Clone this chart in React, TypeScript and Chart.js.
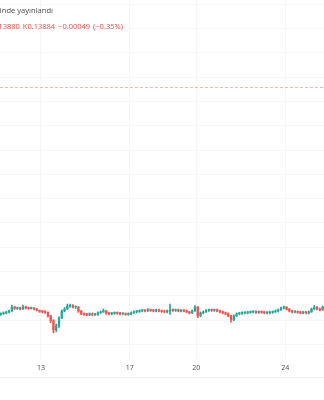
import React, { useEffect, useRef } from "react";
import { Chart, registerables } from "chart.js";

Chart.register(...registerables);

// ---- data (3-hour candles starting day 11, 03:00) ----
const FIRST_DAY = 11;
const START_HOUR = 3;
const CANDLE_HOURS = 3;
const dayTicks = [13, 17, 20, 24];
const prevClose = 0.13933;
const firstOpen = 0.138862;

const closes = [
  0.138863, 0.138865, 0.138866, 0.138869, 0.138877, 0.138874, 0.138875, 0.138873, 0.138877, 0.138875,
  0.138874, 0.138875, 0.138873, 0.13887, 0.138868, 0.138867, 0.138866, 0.138859, 0.138849, 0.13883,
  0.138838, 0.138855, 0.138869, 0.138873, 0.138879, 0.13888, 0.138877, 0.138877, 0.138869, 0.138863,
  0.138862, 0.138861, 0.138863, 0.138861, 0.138862, 0.138865, 0.138867, 0.138869, 0.138864, 0.138863,
  0.138864, 0.138865, 0.138864, 0.138863, 0.138863, 0.138862, 0.138863, 0.138865, 0.138867, 0.138868,
  0.138869, 0.13887, 0.138869, 0.138871, 0.13887, 0.138869, 0.138871, 0.138869, 0.138868, 0.138867,
  0.138869, 0.138871, 0.13887, 0.138871, 0.138869, 0.13887, 0.138869, 0.138867, 0.138865, 0.138869,
  0.138877, 0.138859, 0.138865, 0.138867, 0.13887, 0.138871, 0.13887, 0.138871, 0.138869, 0.138867,
  0.138865, 0.138863, 0.138859, 0.138851, 0.138859, 0.138863, 0.138864, 0.138865, 0.138865, 0.138866,
  0.138867, 0.138867, 0.138866, 0.138867, 0.138866, 0.138865, 0.138865, 0.138866, 0.138867, 0.138869,
  0.138871, 0.138875, 0.138877, 0.138873, 0.138869, 0.138867, 0.138867, 0.138866, 0.138865, 0.138866,
  0.138865, 0.138867, 0.138873, 0.138877, 0.138873, 0.138871, 0.138877, 0.138886,
];

const highs = [
  0.138865, 0.138867, 0.138868, 0.138871, 0.138881, 0.138879, 0.138877, 0.138877, 0.138881, 0.138879,
  0.138877, 0.138877, 0.138876, 0.138874, 0.138871, 0.13887, 0.138869, 0.138867, 0.13886, 0.138851,
  0.138842, 0.138857, 0.138871, 0.138876, 0.138883, 0.138883, 0.138882, 0.138879, 0.138878, 0.13887,
  0.138865, 0.138864, 0.138865, 0.138865, 0.138864, 0.138867, 0.138869, 0.138873, 0.13887, 0.138866,
  0.138866, 0.138867, 0.138867, 0.138866, 0.138865, 0.138865, 0.138865, 0.138867, 0.138869, 0.13887,
  0.138871, 0.138872, 0.138872, 0.138874, 0.138873, 0.138872, 0.138873, 0.138873, 0.138871, 0.13887,
  0.138871, 0.138883, 0.138873, 0.138873, 0.138873, 0.138872, 0.138872, 0.138871, 0.138868, 0.138871,
  0.13888, 0.138878, 0.138867, 0.138869, 0.138872, 0.138873, 0.138873, 0.138873, 0.138873, 0.138871,
  0.138869, 0.138867, 0.138865, 0.13886, 0.138861, 0.138865, 0.138866, 0.138867, 0.138867, 0.138868,
  0.138869, 0.138869, 0.138869, 0.138869, 0.138869, 0.138868, 0.138867, 0.138868, 0.138869, 0.138871,
  0.138873, 0.138877, 0.138879, 0.138878, 0.138874, 0.138871, 0.138869, 0.138869, 0.138868, 0.138868,
  0.138868, 0.138869, 0.138875, 0.13888, 0.138878, 0.138875, 0.138879, 0.138888,
];

const lows = [
  0.13886, 0.138862, 0.138863, 0.138865, 0.138868, 0.138872, 0.138872, 0.138871, 0.138872, 0.138873,
  0.138872, 0.138873, 0.138871, 0.138869, 0.138866, 0.138865, 0.138864, 0.138856, 0.138845, 0.138824,
  0.138826, 0.138835, 0.138853, 0.138867, 0.138872, 0.138876, 0.138875, 0.138874, 0.138866, 0.138861,
  0.13886, 0.138859, 0.138859, 0.138859, 0.13886, 0.13886, 0.138864, 0.138866, 0.138862, 0.138861,
  0.138861, 0.138862, 0.138862, 0.138861, 0.138861, 0.13886, 0.13886, 0.138861, 0.138864, 0.138865,
  0.138866, 0.138867, 0.138867, 0.138868, 0.138868, 0.138867, 0.138867, 0.138867, 0.138866, 0.138865,
  0.138865, 0.138862, 0.138868, 0.138868, 0.138867, 0.138867, 0.138867, 0.138865, 0.138863, 0.138864,
  0.138868, 0.138855, 0.138857, 0.138863, 0.138866, 0.138868, 0.138868, 0.138868, 0.138867, 0.138865,
  0.138863, 0.138861, 0.138857, 0.138846, 0.138849, 0.138857, 0.138861, 0.138862, 0.138863, 0.138863,
  0.138864, 0.138865, 0.138864, 0.138864, 0.138864, 0.138863, 0.138863, 0.138863, 0.138864, 0.138866,
  0.138867, 0.13887, 0.138873, 0.138871, 0.138867, 0.138865, 0.138865, 0.138864, 0.138863, 0.138863,
  0.138863, 0.138863, 0.138866, 0.138872, 0.138871, 0.138869, 0.13887, 0.138876,
];

const headerPublished = "TradingView.com üzerinde yayınlandı";
const headerValues = "D0.13880 K0.13884 −0.00049 (−0.35%)";

const X_MIN = 3.7;
const X_MAX = 354;
const Y_MIN = 0.138768;
const Y_MAX = 0.139509;
const GRID_STEP = 0.00005;
const GRID_START = 0.1388;

const UP = "#26a69a";
const DOWN = "#ef5350";
const GRID = "#f6f6f6";

export default function App() {
  const ref = useRef<HTMLCanvasElement | null>(null);

  useEffect(() => {
    if (!ref.current) return;
    const opens = closes.map((c, i) => (i === 0 ? firstOpen : closes[i - 1]));
    const hourOf = (i: number) => START_HOUR + i * CANDLE_HOURS + CANDLE_HOURS / 2;
    const colors = closes.map((c, i) => (c >= opens[i] ? UP : DOWN));

    const overlay = {
      id: "overlay",
      beforeDatasetsDraw(chart: any) {
        const { ctx, scales } = chart;
        const y = Math.round(scales.y.getPixelForValue(prevClose)) + 0.5;
        ctx.save();
        ctx.strokeStyle = "#eab9bd";
        ctx.lineWidth = 1;
        ctx.setLineDash([3, 2]);
        ctx.beginPath();
        ctx.moveTo(0, y);
        ctx.lineTo(chart.width, y);
        ctx.stroke();
        ctx.restore();
      },
      afterDraw(chart: any) {
        const { ctx, chartArea } = chart;
        ctx.save();
        ctx.strokeStyle = "#efefef";
        ctx.lineWidth = 1;
        const yb = chartArea.bottom + 17.5;
        ctx.beginPath();
        ctx.moveTo(0, yb);
        ctx.lineTo(chart.width, yb);
        ctx.stroke();
        ctx.restore();
      },
    };

    const chart = new Chart(ref.current, {
      type: "bar",
      data: {
        datasets: [
          {
            label: "wick",
            data: closes.map((c, i) => ({ x: hourOf(i), y: [lows[i], highs[i]] })) as any,
            backgroundColor: colors,
            barThickness: 1,
            grouped: false,
            order: 2,
          } as any,
          {
            label: "body",
            data: closes.map((c, i) => ({ x: hourOf(i), y: [opens[i], c] })) as any,
            backgroundColor: colors,
            barThickness: 1.6,
            minBarLength: 1,
            grouped: false,
            order: 1,
          } as any,
        ],
      },
      options: {
        animation: false,
        responsive: false,
        layout: { padding: { left: 0, right: 0, top: 0, bottom: 23 } },
        plugins: { legend: { display: false }, tooltip: { enabled: false } },
        scales: {
          x: {
            type: "linear",
            min: X_MIN,
            max: X_MAX,
            offset: false,
            grid: { color: GRID, drawTicks: false, offset: false },
            border: { display: false },
            afterBuildTicks: (s: any) => {
              s.ticks = dayTicks.map((d) => ({ value: (d - FIRST_DAY) * 24 }));
            },
            afterFit: (s: any) => {
              s.height = 17;
            },
            ticks: {
              autoSkip: false,
              maxRotation: 0,
              padding: 4,
              color: "#555",
              font: { family: "Noto Sans", size: 7 },
              callback: (_v: any, i: number) => String(dayTicks[i]),
            },
          },
          y: {
            type: "linear",
            position: "right",
            min: Y_MIN,
            max: Y_MAX,
            grid: { color: GRID, drawTicks: false },
            border: { display: false },
            ticks: { display: false },
            afterBuildTicks: (s: any) => {
              const t: any[] = [];
              for (let i = 0; i < 15; i++) t.push({ value: GRID_START + i * GRID_STEP });
              s.ticks = t;
            },
            afterFit: (s: any) => {
              s.width = 0;
            },
          },
        },
      } as any,
      plugins: [overlay],
    });
    return () => chart.destroy();
  }, []);

  return (
    <div
      style={{
        position: "fixed",
        left: 0,
        top: 0,
        width: 324,
        height: 400,
        overflow: "hidden",
        background: "#fff",
      }}
    >
      <canvas ref={ref} width={324} height={400} style={{ position: "absolute", left: 0, top: 0 }} />
      <div
        style={{
          position: "absolute",
          right: 271,
          top: 5,
          whiteSpace: "nowrap",
          fontFamily: "Noto Sans",
          fontSize: 7.5,
          lineHeight: "10px",
          color: "#555",
        }}
      >
        {headerPublished}
      </div>
      <div
        style={{
          position: "absolute",
          right: 201,
          top: 21,
          whiteSpace: "nowrap",
          fontFamily: "Noto Sans",
          fontSize: 7.5,
          lineHeight: "10px",
          color: DOWN,
          wordSpacing: 1,
        }}
      >
        {headerValues}
      </div>
    </div>
  );
}
